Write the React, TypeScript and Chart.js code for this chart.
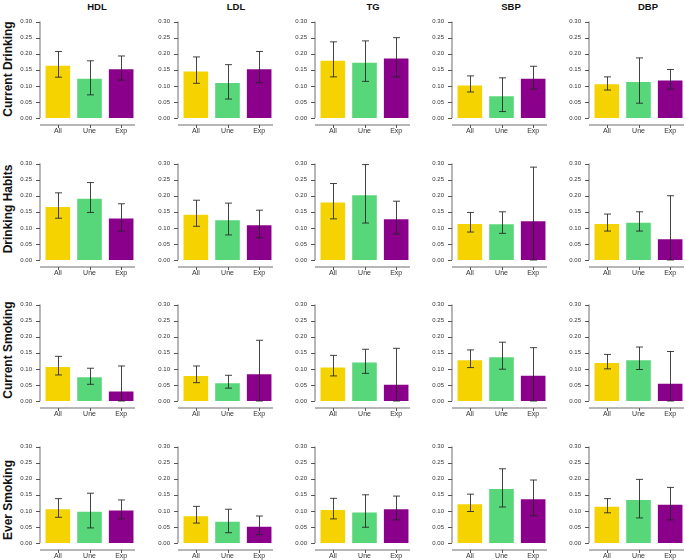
import React, { useEffect, useRef } from "react";
import { Chart, registerables } from "chart.js";
Chart.register(...registerables);

const groups = ["All", "Une", "Exp"];
const metrics = ["HDL", "LDL", "TG", "SBP", "DBP"];
const exposures = ["Current Drinking", "Drinking Habits", "Current Smoking", "Ever Smoking"];
const colors = ["#F5D300", "#58D67A", "#8B008B"];

// rows: exposure; each inner array: metric (HDL, LDL, TG, SBP, DBP) -> [All, Une, Exp]
const currentDrinkingMean = [[0.166, 0.125, 0.155], [0.148, 0.112, 0.155], [0.181, 0.175, 0.188], [0.104, 0.071, 0.125], [0.108, 0.115, 0.120]];
const currentDrinkingLower = [[0.127, 0.072, 0.118], [0.108, 0.059, 0.110], [0.128, 0.114, 0.128], [0.081, 0.020, 0.090], [0.087, 0.046, 0.090]];
const currentDrinkingUpper = [[0.207, 0.178, 0.193], [0.190, 0.166, 0.207], [0.237, 0.240, 0.250], [0.131, 0.125, 0.161], [0.128, 0.187, 0.151]];

const drinkingHabitsMean = [[0.168, 0.194, 0.132], [0.144, 0.127, 0.111], [0.182, 0.205, 0.130], [0.115, 0.114, 0.124], [0.115, 0.119, 0.068]];
const drinkingHabitsLower = [[0.130, 0.148, 0.090], [0.105, 0.078, 0.069], [0.128, 0.115, 0.081], [0.087, 0.083, 0.0], [0.090, 0.090, 0.0]];
const drinkingHabitsUpper = [[0.209, 0.241, 0.175], [0.186, 0.177, 0.155], [0.238, 0.297, 0.183], [0.148, 0.150, 0.289], [0.143, 0.150, 0.200]];

const currentSmokingMean = [[0.109, 0.077, 0.033], [0.081, 0.058, 0.086], [0.107, 0.123, 0.054], [0.130, 0.139, 0.082], [0.121, 0.130, 0.057]];
const currentSmokingLower = [[0.081, 0.052, 0.0], [0.057, 0.040, 0.0], [0.078, 0.086, 0.0], [0.104, 0.099, 0.0], [0.100, 0.098, 0.0]];
const currentSmokingUpper = [[0.139, 0.102, 0.109], [0.109, 0.080, 0.189], [0.142, 0.161, 0.164], [0.159, 0.183, 0.166], [0.145, 0.168, 0.154]];

const everSmokingMean = [[0.108, 0.100, 0.104], [0.086, 0.069, 0.054], [0.106, 0.098, 0.108], [0.124, 0.171, 0.139], [0.116, 0.137, 0.122]];
const everSmokingLower = [[0.080, 0.047, 0.075], [0.062, 0.032, 0.026], [0.075, 0.049, 0.072], [0.098, 0.112, 0.085], [0.094, 0.078, 0.072]];
const everSmokingUpper = [[0.138, 0.155, 0.134], [0.114, 0.105, 0.084], [0.139, 0.150, 0.146], [0.152, 0.231, 0.196], [0.138, 0.198, 0.173]];

const meanRows = [currentDrinkingMean, drinkingHabitsMean, currentSmokingMean, everSmokingMean];
const lowerRows = [currentDrinkingLower, drinkingHabitsLower, currentSmokingLower, everSmokingLower];
const upperRows = [currentDrinkingUpper, drinkingHabitsUpper, currentSmokingUpper, everSmokingUpper];

const yMax = 0.3;
const yStep = 0.05;

// layout (pixels)
const axisX = [40, 178, 315, 452, 589];
const rowTop = [16, 158, 299, 441];
const titleX = [97, 236, 373, 511, 648];
const rowLabelY = [69, 209, 350, 500];
const FONT = "'Liberation Sans', Arial, Helvetica, sans-serif";

function makeAxesPlugin(lo: number[], hi: number[]) {
  return {
    id: "axesErr",
    afterDatasetsDraw(chart: any) {
      const ctx = chart.ctx;
      const { chartArea } = chart;
      const ys = chart.scales.y;
      const meta = chart.getDatasetMeta(0);
      ctx.save();
      // error bars
      ctx.strokeStyle = "rgba(35,35,35,0.85)";
      ctx.lineWidth = 1;
      meta.data.forEach((bar: any, i: number) => {
        const x = Math.round(bar.x) + 0.5;
        const yh = ys.getPixelForValue(hi[i]);
        const yl = ys.getPixelForValue(lo[i]);
        ctx.beginPath();
        ctx.moveTo(x, yh);
        ctx.lineTo(x, yl);
        ctx.moveTo(x - 3.5, yh);
        ctx.lineTo(x + 3.5, yh);
        ctx.moveTo(x - 3.5, yl);
        ctx.lineTo(x + 3.5, yl);
        ctx.stroke();
      });
      // y axis
      const ax = chartArea.left - 2;
      ctx.strokeStyle = "#9e9e9e";
      ctx.lineWidth = 1.5;
      ctx.beginPath();
      ctx.moveTo(ax, ys.getPixelForValue(0));
      ctx.lineTo(ax, ys.getPixelForValue(yMax));
      ctx.stroke();
      ctx.strokeStyle = "#555";
      ctx.lineWidth = 1;
      ys.ticks.forEach((t: any) => {
        const y = Math.round(ys.getPixelForValue(t.value)) + 0.5;
        ctx.beginPath();
        ctx.moveTo(ax - 4, y);
        ctx.lineTo(ax, y);
        ctx.stroke();
      });
      // x axis
      const ay = chartArea.bottom + 7;
      ctx.strokeStyle = "#9e9e9e";
      ctx.lineWidth = 1.5;
      ctx.beginPath();
      ctx.moveTo(ax, ay);
      ctx.lineTo(chartArea.right - 2, ay);
      ctx.stroke();
      ctx.strokeStyle = "#555";
      ctx.lineWidth = 1;
      meta.data.forEach((bar: any) => {
        const x = Math.round(bar.x) + 0.5;
        ctx.beginPath();
        ctx.moveTo(x, ay);
        ctx.lineTo(x, ay + 3);
        ctx.stroke();
      });
      ctx.restore();
    },
  };
}

function Panel({ row, col }: { row: number; col: number }) {
  const ref = useRef<HTMLCanvasElement>(null);
  useEffect(() => {
    const mean = meanRows[row][col];
    const lo = lowerRows[row][col];
    const hi = upperRows[row][col];
    const chart = new Chart(ref.current as HTMLCanvasElement, {
      type: "bar",
      data: {
        labels: groups,
        datasets: [
          {
            data: mean,
            backgroundColor: colors,
            borderColor: "rgba(255,255,255,0.55)",
            borderWidth: 1,
            barPercentage: 0.84,
            categoryPercentage: 1,
          },
        ],
      },
      options: {
        animation: false,
        responsive: false,
        devicePixelRatio: 1,
        layout: { padding: { top: 8, right: 3, left: 0, bottom: 0 } },
        plugins: { legend: { display: false }, tooltip: { enabled: false }, title: { display: false } },
        scales: {
          x: {
            grid: { display: false, drawTicks: false },
            border: { display: false },
            ticks: { padding: 9, font: { size: 7, family: FONT }, color: "#333", maxRotation: 0, autoSkip: false },
            afterFit: (s: any) => {
              s.height = 20;
            },
          },
          y: {
            min: 0,
            max: yMax,
            grid: { display: false, drawTicks: false },
            border: { display: false },
            ticks: {
              stepSize: yStep,
              padding: 10,
              font: { size: 6, family: FONT },
              color: "#333",
              callback: (v: any) => Number(v).toFixed(2),
            },
            afterFit: (s: any) => {
              s.width = 42;
            },
          },
        },
      } as any,
      plugins: [makeAxesPlugin(lo, hi)],
    });
    return () => chart.destroy();
  }, [row, col]);
  return (
    <canvas
      ref={ref}
      width={140}
      height={130}
      style={{ position: "absolute", left: axisX[col] - 40, top: rowTop[row] - 8, width: 140, height: 130 }}
    />
  );
}

export default function App() {
  return (
    <div style={{ position: "relative", width: 685, height: 560, overflow: "hidden", background: "#fff", fontFamily: FONT }}>
      <style>{`body{margin:0;background:#fff;}`}</style>
      {metrics.map((m, c) => (
        <div
          key={m}
          style={{
            position: "absolute",
            left: titleX[c],
            top: 6,
            transform: "translate(-50%,-50%)",
            fontWeight: "bold",
            fontSize: 9.5,
            color: "#111",
            whiteSpace: "nowrap",
          }}
        >
          {m}
        </div>
      ))}
      {exposures.map((e, r) => (
        <div
          key={e}
          style={{
            position: "absolute",
            left: 8,
            top: rowLabelY[r],
            transform: "translate(-50%,-50%) rotate(-90deg)",
            fontWeight: "bold",
            fontSize: 12,
            color: "#111",
            whiteSpace: "nowrap",
          }}
        >
          {e}
        </div>
      ))}
      {exposures.map((e, r) => metrics.map((m, c) => <Panel key={e + m} row={r} col={c} />))}
    </div>
  );
}
